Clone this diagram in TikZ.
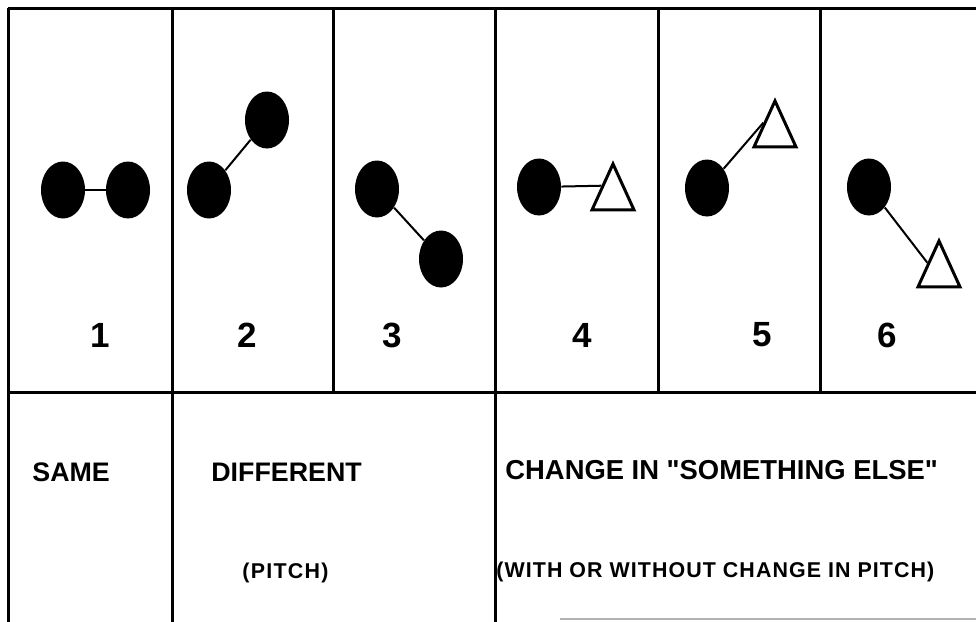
\documentclass[tikz,border=0pt]{standalone}
\usepackage{fontspec}
\setmainfont{Liberation Sans}
\usetikzlibrary{shapes.geometric}

\tikzset{
  tone/.style={ellipse, fill=black, inner sep=0pt, minimum width=22pt, minimum height=28.5pt},
  other/.style={isosceles triangle, isosceles triangle stretches, shape border rotate=90,
    draw=black, line width=1.5pt, inner sep=0pt, minimum width=21pt, minimum height=23pt},
  link/.style={line width=1pt},
  frame/.style={line width=1.5pt},
  num/.style={font=\fontsize{17.5}{20}\selectfont\bfseries},
  head/.style={anchor=west, inner sep=0pt, font=\fontsize{13.4}{16}\selectfont\bfseries},
  sub/.style={anchor=west, inner sep=0pt, font=\fontsize{10.7}{13}\selectfont\bfseries},
}

\begin{document}
\begin{tikzpicture}[x=0.5pt, y=-0.5pt]
  \useasboundingbox (0,0) rectangle (976,622);

  % frame
  \draw[frame] (8,8) -- (976,8);
  \draw[frame] (8,392) -- (976,392);
  \draw[frame] (8,8) -- (8,622);
  \draw[frame] (172,8) -- (172,622);
  \draw[frame] (333,8) -- (333,392);
  \draw[frame] (495,8) -- (495,622);
  \draw[frame] (658,8) -- (658,392);
  \draw[frame] (820,8) -- (820,392);
  \draw[gray!60, line width=0.6pt] (560,619) -- (976,619);

  % same
  \node[tone] (a1) at (63,190) {};
  \node[tone] (b1) at (128,190) {};
  \draw[link] (a1) -- (b1);

  % different pitch
  \node[tone] (a2) at (209,190) {};
  \node[tone] (b2) at (267,120) {};
  \draw[link] (a2) -- (b2);
  \node[tone] (a3) at (377,189) {};
  \node[tone] (b3) at (441,259) {};
  \draw[link] (a3) -- (b3);

  % something else
  \node[tone] (a4) at (539,187) {};
  \node[other, anchor=apex] (t4) at (613,160) {};
  \draw[link] (a4) -- (t4.left side);
  \node[tone] (a5) at (707,188) {};
  \node[other, anchor=apex] (t5) at (775,97) {};
  \draw[link] (a5) -- (t5.left side);
  \node[tone] (a6) at (869,187) {};
  \node[other, anchor=apex] (t6) at (939,237) {};
  \draw[link] (a6) -- (t6.left side);

  % numbers
  \node[num] (n1) at (100,335) {1};
  \node[num] (n2) at (247,335) {2};
  \node[num] (n3) at (392,335) {3};
  \node[num] (n4) at (582,335) {4};
  \node[num] (n5) at (762,335) {5};
  \node[num] (n6) at (887,335) {6};

  % labels
  \node[head] (same) at (32,472) {SAME};
  \node[head] (diff) at (211,472) {DIFFERENT};
  \node[sub] (pitch) at (242,573) {\addfontfeature{LetterSpace=6}(PITCH)};
  \node[head, font=\fontsize{13.7}{16}\selectfont\bfseries] (else) at (505,470)
    {CHANGE IN \textquotedbl SOMETHING ELSE\textquotedbl};
  \node[sub] (with) at (496,572)
    {\addfontfeature{LetterSpace=5}(WITH OR WITHOUT CHANGE IN PITCH)};
\end{tikzpicture}
\end{document}
